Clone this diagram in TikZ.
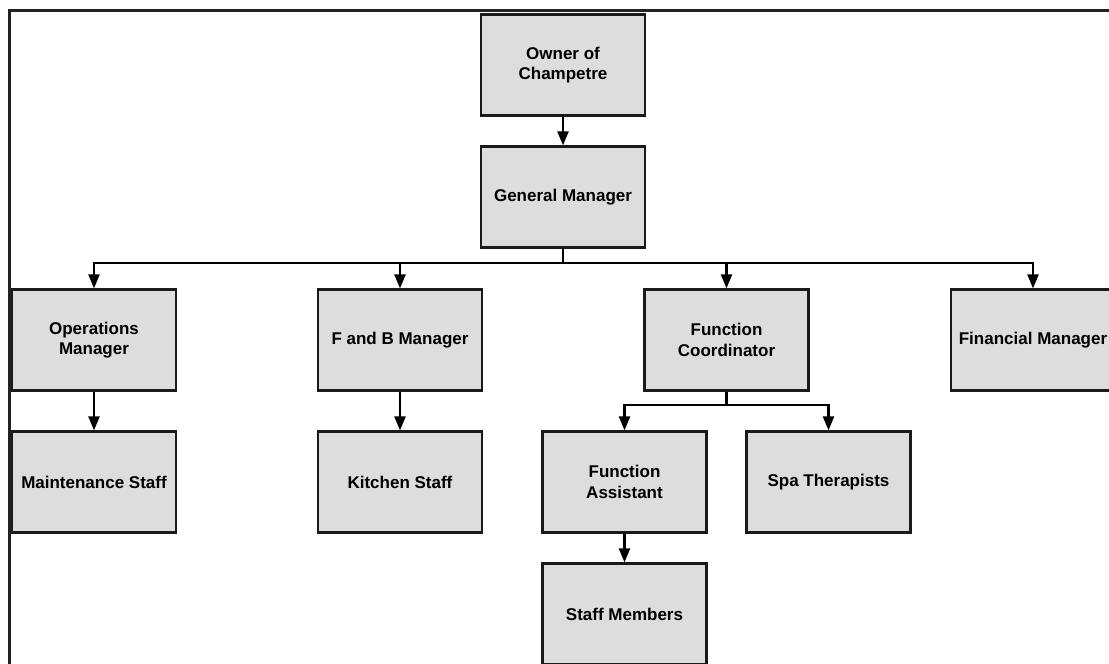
\documentclass[tikz,border=0pt]{standalone}
\usepackage{fontspec}
\setmainfont{Liberation Sans}
\usetikzlibrary{arrows.meta}
\definecolor{boxfill}{HTML}{DDDDDD}
\definecolor{edge}{HTML}{1A1A1A}
\definecolor{framecol}{HTML}{222222}
\tikzset{
  orgbox/.style={draw=edge, line width=2.2pt, fill=boxfill, minimum width=164pt,
    minimum height=101pt, inner sep=0pt, align=center,
    font=\fontsize{17}{20.5}\selectfont\bfseries},
  link/.style={draw=black, line width=2.2pt},
  arr/.style={link, -{Triangle[length=14pt,width=11pt]}}
}
\begin{document}
\begin{tikzpicture}[x=1pt,y=-1pt]
  \clip (0,0) rectangle (1109,664);
  \fill[white] (0,0) rectangle (1109,664);
  % outer frame, running off the right and bottom edges
  \draw[framecol, line width=3pt] (9,10) rectangle (1140,700);

  % boxes
  \node[orgbox] (owner) at (563,65)    {Owner of\\Champetre};
  \node[orgbox] (gm)    at (563,197)   {General Manager};
  \node[orgbox] (ops)   at (94,340)    {Operations\\Manager};
  \node[orgbox] (fb)    at (400,340)   {F and B Manager};
  \node[orgbox] (fc)    at (726.5,340) {Function\\Coordinator};
  \node[orgbox] (fin)   at (1033,340)  {Financial Manager};
  \node[orgbox] (maint) at (94,482)    {Maintenance Staff};
  \node[orgbox] (kitch) at (400,482)   {Kitchen Staff};
  \node[orgbox] (fa)    at (624.5,482) {Function\\Assistant};
  \node[orgbox] (spa)   at (828.5,482) {Spa Therapists};
  \node[orgbox] (staff) at (624.5,614) {Staff Members};

  % junction points of the branching connectors
  \coordinate (gmbus) at (563,263);
  \coordinate (fcbus) at (726.5,405);

  % connectors
  \draw[arr] (owner) -- (gm);
  \draw[link] (gm.south) -- (gmbus);
  \draw[arr] (gmbus) -| (ops.north);
  \draw[arr] (gmbus) -| (fb.north);
  \draw[arr] (gmbus) -| (fc.north);
  \draw[arr] (gmbus) -| (fin.north);
  \draw[arr] (ops) -- (maint);
  \draw[arr] (fb) -- (kitch);
  \draw[link] (fc.south) -- (fcbus);
  \draw[arr] (fcbus) -| (fa.north);
  \draw[arr] (fcbus) -| (spa.north);
  \draw[arr] (fa) -- (staff);
\end{tikzpicture}
\end{document}
